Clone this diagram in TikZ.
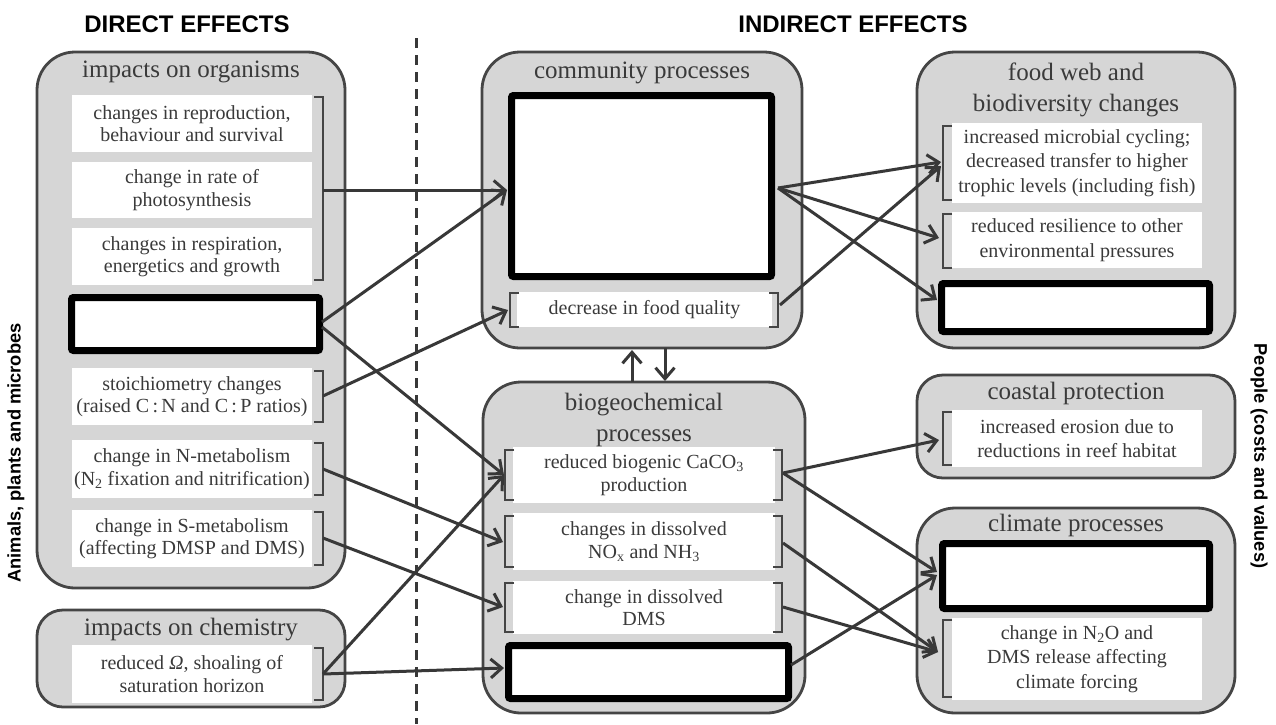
\documentclass[tikz,border=0pt]{standalone}
\usepackage{fontspec}
\setmainfont{Liberation Serif}
\newfontfamily\hsans{Liberation Sans}
\usetikzlibrary{arrows.meta,shadows}
\definecolor{txt}{HTML}{3A3A3A}
\definecolor{panel}{HTML}{D6D6D6}
\definecolor{edge}{HTML}{454545}
\definecolor{ln}{HTML}{383838}
\newcommand\rbrk[3]{\draw[brk] (#1-9,#2) -- (#1,#2) -- (#1,#3) -- (#1-9,#3);}
\newcommand\lbrk[3]{\draw[brk] (#1+9,#2) -- (#1,#2) -- (#1,#3) -- (#1+9,#3);}
\begin{document}
\begin{tikzpicture}[x=1pt,y=-1pt,
 panelbox/.style={draw=edge, line width=2.8pt, fill=panel, rounded corners=38pt, inner sep=0pt},
 smallpanel/.style={panelbox, rounded corners=26pt},
 wbox/.style={fill=white, inner sep=0pt, align=center, text=txt, font=\fontsize{20}{22.5}\selectfont},
 rbox/.style={wbox, font=\fontsize{20}{24.5}\selectfont},
 kbox/.style={draw=black, line width=7pt, fill=white, inner sep=0pt, rounded corners=2pt,
   drop shadow={opacity=0.3, shadow xshift=3pt, shadow yshift=-3pt}},
 ttl/.style={text=txt, align=center, font=\fontsize{25}{30.5}\selectfont},
 brk/.style={draw=edge, line width=2.5pt},
 conn/.style={draw=ln, line width=3pt, -{Straight Barb[length=11pt,width=19pt]}},
 head/.style={font=\hsans\bfseries\fontsize{24}{28}\selectfont},
 side/.style={font=\hsans\bfseries\fontsize{18.3}{22}\selectfont},
]
\useasboundingbox (0,0) rectangle (1276,724);
\fill[white] (0,0) rectangle (1276,724);

% headers
\node[head] (hd) at (187,24) {DIRECT EFFECTS};
\node[head] (hi) at (853,24) {INDIRECT EFFECTS};
\node[side, rotate=90] (sl) at (16,453) {Animals, plants and microbes};
\node[side, rotate=-90] (sr) at (1259,456) {People (costs and values)};

% dashed divider
\coordinate (dtop) at (416,38);
\coordinate (dbot) at (416,724);
\draw[ln, line width=3pt, dash pattern=on 10pt off 7pt] (dtop) -- (dbot);

% panels
\node[panelbox, minimum width=308, minimum height=536] (porg) at (191,320) {};
\node[smallpanel, minimum width=308, minimum height=97] (pchem) at (191,658.5) {};
\node[panelbox, minimum width=320, minimum height=296] (pcom) at (642,200) {};
\node[panelbox, minimum width=322, minimum height=331] (pbio) at (644,547.5) {};
\node[panelbox, minimum width=318, minimum height=296] (pfood) at (1076,200) {};
\node[smallpanel, minimum width=318, minimum height=103] (pcoast) at (1076,426.5) {};
\node[panelbox, minimum width=318, minimum height=205] (pclim) at (1076,610.5) {};

% titles
\node[ttl] (torg) at (191,72) {impacts on organisms};
\node[ttl] (tchem) at (191,630) {impacts on chemistry};
\node[ttl] (tcom) at (642,73) {community processes};
\node[ttl] (tbio) at (644,420) {biogeochemical\\processes};
\node[ttl] (tfood) at (1076,90) {food web and\\biodiversity changes};
\node[ttl] (tcoast) at (1076,393) {coastal protection};
\node[ttl] (tclim) at (1076,525) {climate processes};

% left column boxes
\node[wbox, minimum width=240, minimum height=57] (o1) at (192,123.5) {changes in reproduction,\\behaviour and survival};
\node[wbox, minimum width=240, minimum height=56] (o2) at (192,190) {change in rate of\\photosynthesis};
\node[wbox, minimum width=240, minimum height=57] (o3) at (192,256.5) {changes in respiration,\\energetics and growth};
\node[kbox, minimum width=248, minimum height=53] (ok) at (195.5,324) {};
\node[wbox, minimum width=240, minimum height=57] (o4) at (192,396.5) {stoichiometry changes\\(raised C\,:\,N and C\,:\,P ratios)};
\node[wbox, minimum width=240, minimum height=58] (o5) at (192,469) {change in N-metabolism\\(N\textsubscript{2} fixation and nitrification)};
\node[wbox, minimum width=240, minimum height=57] (o6) at (192,538.5) {change in S-metabolism\\(affecting DMSP and DMS)};
\node[wbox, minimum width=240, minimum height=58] (ch) at (192,674) {reduced \textit{Ω}, shoaling of\\saturation horizon};

\rbrk{323}{97}{280}
\rbrk{323}{371}{422}
\rbrk{323}{443}{495}
\rbrk{323}{512}{565}
\rbrk{323}{648}{700}

% community
\node[kbox, minimum width=260, minimum height=181] (kc) at (641.5,186) {};
\node[wbox, minimum width=255, minimum height=35] (fq) at (644.5,309.5) {decrease in food quality};
\lbrk{510}{293}{327}
\rbrk{778}{293}{327}

% biogeochemical
\node[wbox, minimum width=262, minimum height=56] (b1) at (644,475) {reduced biogenic CaCO\textsubscript{3}\\production};
\node[wbox, minimum width=262, minimum height=57] (b2) at (644,541.5) {changes in dissolved\\NO\textsubscript{x} and NH\textsubscript{3}};
\node[wbox, minimum width=262, minimum height=53] (b3) at (644,607.5) {change in dissolved\\DMS};
\node[kbox, minimum width=280, minimum height=53] (kb) at (648.5,672) {};
\lbrk{505}{450}{500}
\rbrk{782}{450}{500}
\lbrk{505}{516}{567}
\rbrk{782}{516}{567}
\lbrk{505}{583}{632}
\rbrk{782}{583}{632}

% food web
\node[rbox, minimum width=250, minimum height=80] (f1) at (1077,163) {increased microbial cycling;\\decreased transfer to higher\\trophic levels (including fish)};
\node[rbox, minimum width=250, minimum height=56] (f2) at (1077,240) {reduced resilience to other\\environmental pressures};
\node[kbox, minimum width=268, minimum height=48] (kf) at (1075.5,307.5) {};
\lbrk{943}{126}{200}
\lbrk{943}{214}{268}

% coastal
\node[rbox, minimum width=250, minimum height=57] (c1) at (1077,438.5) {increased erosion due to\\reductions in reef habitat};
\lbrk{943}{412}{465}

% climate
\node[kbox, minimum width=267, minimum height=65] (kl) at (1076,576) {};
\node[rbox, minimum width=250, minimum height=82] (l2) at (1077,659) {change in N\textsubscript{2}O and\\DMS release affecting\\climate forcing};
\lbrk{943}{620}{697}

% connector end points
\coordinate (s1) at (323,190);
\coordinate (sk1) at (322,322);
\coordinate (sk2) at (322,327);
\coordinate (s4) at (323,396);
\coordinate (s5) at (323,469);
\coordinate (s6) at (323,538);
\coordinate (sch) at (323,674);
\coordinate (tc1) at (507,190);
\coordinate (tfq) at (508,310);
\coordinate (tb1) at (504,475);
\coordinate (tb2) at (503,542);
\coordinate (tb3) at (503,607);
\coordinate (tkb) at (504,668);
\coordinate (skc) at (778,188);
\coordinate (sfq) at (780,305);
\coordinate (sb1) at (783,473);
\coordinate (sb2) at (783,543);
\coordinate (sb3) at (783,607);
\coordinate (skb) at (791,665);
\coordinate (tf1a) at (941,162);
\coordinate (tf1b) at (941,166);
\coordinate (tf2) at (939,238);
\coordinate (tkf) at (937,300);
\coordinate (tco) at (939,440);
\coordinate (tkl1) at (937,572);
\coordinate (tkl2) at (937,575);
\coordinate (tl2) at (938,652);
\coordinate (up1) at (632,382);
\coordinate (up2) at (632,350);
\coordinate (dn1) at (665,348);
\coordinate (dn2) at (665,381);

% connectors
\draw[conn] (s1) -- (tc1);
\draw[conn] (sk1) -- (tc1);
\draw[conn] (sk2) -- (tb1);
\draw[conn] (s4) -- (tfq);
\draw[conn] (s5) -- (tb2);
\draw[conn] (s6) -- (tb3);
\draw[conn] (sch) -- (tb1);
\draw[conn] (sch) -- (tkb);
\draw[conn] (skc) -- (tf1a);
\draw[conn] (skc) -- (tf2);
\draw[conn] (skc) -- (tkf);
\draw[conn] (sfq) -- (tf1b);
\draw[conn] (sb1) -- (tco);
\draw[conn] (sb1) -- (tkl1);
\draw[conn] (sb2) -- (tl2);
\draw[conn] (sb3) -- (tl2);
\draw[conn] (skb) -- (tkl2);
\draw[conn] (up1) -- (up2);
\draw[conn] (dn1) -- (dn2);
\end{tikzpicture}
\end{document}
